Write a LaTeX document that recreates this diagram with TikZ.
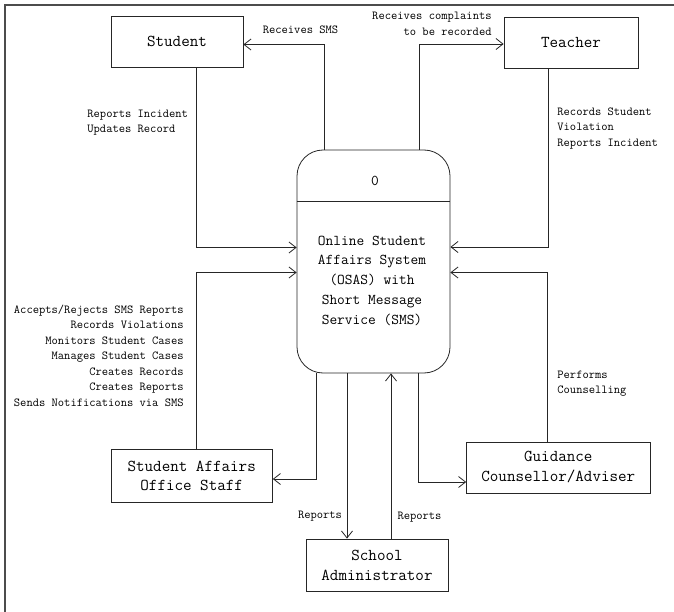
\documentclass[tikz,border=0pt]{standalone}
\usepackage{fontspec}
\usetikzlibrary{arrows.meta,calc}

\tikzset{
  entity/.style={draw, rectangle, inner sep=0pt, align=center,
    font=\ttfamily\fontsize{16.6}{20}\selectfont},
  process/.style={draw, rectangle, rounded corners=26pt, inner sep=0pt},
  ptext/.style={inner sep=0pt, align=center, font=\ttfamily\fontsize{15}{19.75}\selectfont},
  lbl/.style={inner sep=0pt, font=\ttfamily\fontsize{12.2}{15.5}\selectfont},
  flow/.style={-{Straight Barb[length=7pt,width=11pt]}},
}

\begin{document}
\begin{tikzpicture}[x=1pt, y=-1pt, line width=0.8pt, draw=black!85]
\useasboundingbox (0,0) rectangle (674,612);

% page frame (top and left edges only)
\draw[line width=1.3pt, black!70] (5,612) -- (5,5) -- (674,5);

% external entities
\node[entity, minimum width=132pt, minimum height=51pt] (student) at (177,41.5) {Student};
\node[entity, minimum width=134pt, minimum height=51pt] (teacher) at (571,42.5) {Teacher};
\node[entity, minimum width=161.5pt, minimum height=53pt, font=\ttfamily\fontsize{16.6}{19}\selectfont] (saos) at (191.7,475.5) {Student Affairs\\Office Staff};
\node[entity, minimum width=142pt, minimum height=52pt] (admin) at (377,565) {School\\Administrator};
\node[entity, minimum width=183.5pt, minimum height=51pt] (guidance) at (558.3,467.5) {Guidance\\Counsellor/Adviser};

% the process
\node[process, minimum width=153pt, minimum height=223pt] (osas) at (373.5,261.5) {};
\draw (osas.west |- 0,201) -- (osas.east |- 0,201);
\node[ptext] (osasnum) at (375,180.7) {0};
\node[ptext] (osasname) at (372,280.5)
  {Online Student\\Affairs System\\(OSAS) with\\Short Message\\Service (SMS)};

% data flows
\draw[flow] ([xshift=-49.5pt]osas.north) |- ([yshift=-3pt]student.east);
\draw[flow] ([xshift=45.5pt]osas.north) |- ([yshift=-1.5pt]teacher.west);
\draw[flow] ([xshift=19pt]student.south) |- ([yshift=14pt]osas.west);
\draw[flow] ([xshift=-23pt]teacher.south) |- ([yshift=14.5pt]osas.east);
\draw[flow] ([xshift=4.3pt]saos.north) |- ([yshift=-11pt]osas.west);
\draw[flow] ([xshift=-11.3pt]guidance.north) |- ([yshift=-11pt]osas.east);
\draw[flow] ([xshift=-57pt]osas.south) |- ([yshift=-3.5pt]saos.east);
\draw[flow] ([xshift=-26.5pt]osas.south) -- ([xshift=-30pt]admin.north);
\draw[flow] ([xshift=14pt]admin.north) -- ([xshift=17.5pt]osas.south);
\draw[flow] ([xshift=45.2pt]osas.south) |- ([yshift=-14.5pt]guidance.west);

% flow labels
\node[lbl] (l-sms) at (300.5,30) {Receives SMS};
\node[lbl, anchor=east, align=right] (l-compl) at (492,24) {Receives complaints\\to be recorded};
\node[lbl, anchor=west, align=left] (l-stud) at (87,122.5) {Reports Incident\\Updates Record};
\node[lbl, anchor=west, align=left] (l-teach) at (557,128.5) {Records Student\\Violation\\Reports Incident};
\node[lbl, anchor=east, align=right] (l-staff) at (184,355.5)
  {Accepts/Rejects SMS Reports\\Records Violations\\Monitors Student Cases\\Manages Student Cases\\Creates Records\\Creates Reports\\Sends Notifications via SMS};
\node[lbl, anchor=west, align=left] (l-guid) at (557,383.5) {Performs\\Counselling};
\node[lbl] (l-rep1) at (320,516) {Reports};
\node[lbl] (l-rep2) at (419.5,517) {Reports};
\end{tikzpicture}
\end{document}
